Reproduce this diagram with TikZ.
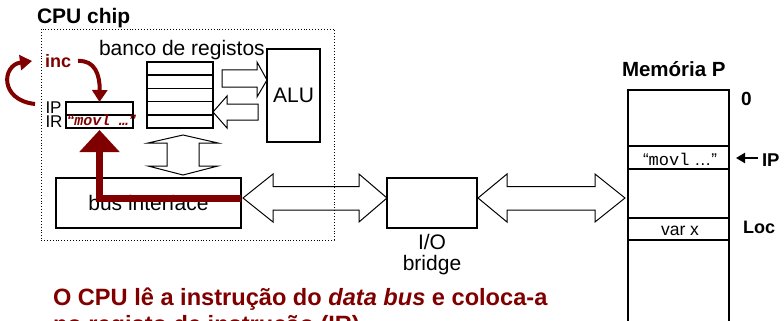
\documentclass[tikz,border=0pt]{standalone}
\usepackage{fontspec}
\setmainfont{Liberation Sans}
\setmonofont{Liberation Mono}
\usetikzlibrary{arrows.meta}
\definecolor{cpured}{HTML}{800000}
\newcommand\fsz[1]{\fontsize{#1}{#1}\selectfont}

\begin{document}
\begin{tikzpicture}[x=1pt,y=-1pt,
  box/.style={draw, line width=1.2pt, inner sep=0, outer sep=0},
  lbl/.style={inner sep=0, outer sep=0, anchor=base west},
  clbl/.style={inner sep=0, outer sep=0, anchor=base},
  fat/.style={draw, line width=1pt, line join=miter},
  redcurve/.style={cpured, line width=4pt, -{Triangle[width=15pt,length=12pt]}}
]
\useasboundingbox (0,0) rectangle (784,321);

% CPU chip outline
\node[draw, dotted, line width=0.9pt, minimum width=293, minimum height=211, inner sep=0] (chip) at (187.5,134.5) {};
\node[lbl, font=\fsz{21}\bfseries] (chiplbl) at (37,24) {CPU chip};

% register bank
\foreach \i in {0,...,4}
  \node[box, line width=1.6pt, minimum width=66, minimum height=13.2] (reg\i) at (180,{68.6+13.2*\i}) {};
\node[lbl, font=\fsz{21}] (banklbl) at (99,56) {banco de registos};

% ALU
\node[box, minimum width=53, minimum height=93, font=\fsz{21}] (alu) at (293.5,95.5) {ALU};

% IP / IR registers
\node[box, minimum width=67, minimum height=13] (ip) at (99.5,108.5) {};
\node[box, minimum width=67, minimum height=13] (ir) at (99.5,121.5) {};
\node[lbl, font=\fsz{17}] (iplbl) at (45.5,113.5) {IP};
\node[lbl, font=\fsz{17}] (irlbl) at (45.5,127.5) {IR};
\node[clbl, text=cpured, font=\fsz{15}\bfseries\itshape] (irtxt) at (101.5,125) {“{\ttfamily movl …}”};

% increment of IP
\node[lbl, text=cpured, font=\fsz{18}\bfseries] (inc) at (45,67) {inc};
\coordinate (loopstart) at (35,104);
\coordinate (loopend) at (32,61);
\draw[redcurve] (loopstart) .. controls (-1,100) and (2,65) .. (loopend);
\coordinate (incstart) at (78,61);
\draw[redcurve] (incstart) .. controls (95,60) and (100,75) .. (ip.north);

% bus interface
\node[box, minimum width=185, minimum height=50, font=\fsz{21}] (bus) at (148.5,203) {bus interface};

% I/O bridge
\node[box, minimum width=90, minimum height=50] (bridge) at (432,203) {};
\node[clbl, font=\fsz{21}] (iolbl) at (432,249) {I/O};
\node[clbl, font=\fsz{21}] (brlbl) at (432,270) {bridge};

% main memory
\node[box, minimum width=101, minimum height=240] (mem) at (678.5,210) {};
\node[box, minimum width=101, minimum height=23] (memins) at (678.5,157.5) {};
\node[clbl, font=\fsz{17}] (memtxt) at (680,165) {“{\ttfamily movl} …”};
\node[box, minimum width=101, minimum height=22] (memvar) at (678.5,229) {};
\node[clbl, font=\fsz{17.5}] (vartxt) at (680,235) {var x};
\node[lbl, font=\fsz{20.5}\bfseries] (memlbl) at (622,77) {Memória P};
\node[lbl, font=\fsz{19}\bfseries] (zero) at (741,105) {0};
\node[lbl, font=\fsz{18.5}\bfseries] (ipmem) at (762,166) {IP};
\node[lbl, font=\fsz{18}\bfseries] (loc) at (743,233) {Loc};
\draw[line width=2.2pt, -{Triangle[width=10pt,length=9pt]}] ([xshift=-4pt]ipmem.west |- 0,158) -- (736,158);

% wide data paths
\draw[fat] (222,70) -- (257,70) -- (257,62) -- (alu.west |- 0,80) -- (257,97) -- (257,87) -- (222,87) -- cycle;
\draw[fat] (reg3.east |- 0,112) -- (227,96) -- (227,104) -- (258,104) -- (258,120) -- (227,120) -- (227,128) -- cycle;
\draw[fat] (183,135) -- (218,143) -- (199,143) -- (199,166) -- (218,166) -- (183,175) -- (148,166) -- (167,166) -- (167,143) -- (148,143) -- cycle;
\draw[fat] (243,198) -- (273,174) -- (273,186.5) -- (359,186.5) -- (359,174) -- (bridge.west |- 0,198) -- (359,222) -- (359,210) -- (273,210) -- (273,222) -- cycle;
\draw[fat] (478,198) -- (507,174) -- (507,186.5) -- (595,186.5) -- (595,174) -- (625,198) -- (595,222) -- (595,210) -- (507,210) -- (507,222) -- cycle;

% instruction fetched from the data bus into IR
\draw[cpured, line width=7pt, -{Triangle[width=39pt,length=22pt]}] ([yshift=5pt]bus.east) -| ([yshift=-2pt]ir.south);

% caption
\node[lbl, text=cpured, font=\fsz{23.6}\bfseries] (cap1) at (53,305) {O CPU lê a instrução do \textit{data bus} e coloca-a};
\node[lbl, text=cpured, font=\fsz{23.6}\bfseries] (cap2) at (53,332) {no registo de instrução (IR)};
\end{tikzpicture}
\end{document}
